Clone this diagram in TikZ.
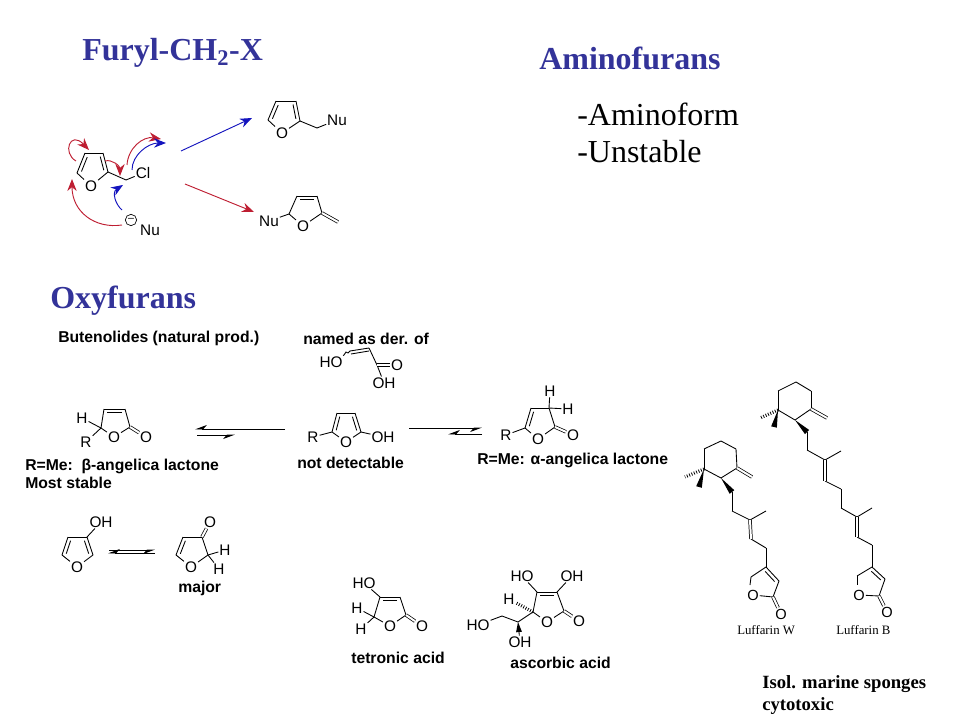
\documentclass[tikz,border=0pt]{standalone}
\usepackage{fontspec}
\setmainfont{Liberation Sans}
\newfontfamily\timesfont{Liberation Serif}
\usetikzlibrary{arrows.meta,calc}
\definecolor{slideblue}{RGB}{51,51,153}
\definecolor{curvered}{RGB}{190,30,50}
\definecolor{curveblue}{RGB}{20,20,190}
\tikzset{
  atom/.style={inner sep=.6pt,font=\fontsize{11.5}{12}\selectfont},
  smallatom/.style={inner sep=.6pt,font=\fontsize{11}{11}\selectfont},
  bond/.style={line width=.65pt},
  dbond/.style={line width=.55pt,double,double distance=1.5pt},
  capt/.style={anchor=west,inner sep=0pt,font=\fontsize{11.8}{14}\selectfont\bfseries},
  heading/.style={anchor=west,inner sep=0pt,text=slideblue,font=\fontsize{24}{24}\timesfont\bfseries},
  listing/.style={anchor=west,inner sep=0pt,font=\fontsize{24}{24}\timesfont},
  note/.style={anchor=west,inner sep=0pt,font=\fontsize{14}{14}\timesfont\bfseries},
  luff/.style={anchor=west,inner sep=0pt,font=\fontsize{9.6}{10}\timesfont},
  redarrow/.style={-{Stealth[length=9pt,width=7pt]},curvered,line width=.7pt},
  bluearrow/.style={-{Stealth[length=9pt,width=7pt]},curveblue,line width=.7pt},
  eqhalf/.style={-{Stealth[harpoon,swap,length=8pt,width=6pt]},bond},
  hashbond/.style={line width=2.4pt,dash pattern=on .6pt off 1.3pt},
}
% inner line of a ring double bond
\newcommand{\innerbond}[2]{\draw[bond] ($(#1)!.14!(#2)!2.7pt!90:(#2)$) -- ($(#2)!.14!(#1)!2.7pt!-90:(#1)$);}
\newcommand{\wedgebond}[2]{\fill ($(#2)!2.2pt!90:(#1)$) -- (#1) -- ($(#2)!2.2pt!-90:(#1)$) -- cycle;}
\begin{document}
\begin{tikzpicture}[x=.75pt,y=-.75pt]
\useasboundingbox (0,0) rectangle (960,720);

% headings
\node[heading] (hfuryl) at (82,53) {Furyl-CH\textsubscript{2}-X};
\node[heading] (hamino) at (539,58) {Aminofurans};
\node[heading] (hoxy) at (50,301) {Oxyfurans};
\node[listing] (l1) at (577,114) {-Aminoform};
\node[listing] (l2) at (577,152) {-Unstable};

% chloride
\foreach \n/\x/\y in {a1/85/153,a2/103/153,a3/108/172,a4/77/173,a5/126/180}
  \coordinate (\n) at (\x,\y);
\node[atom] (ao) at (91,186) {O};
\node[atom] (acl) at (143,173) {Cl};
\node[atom] (anu) at (150,230) {Nu};
\node[circle,draw,line width=.5pt,minimum size=8.5pt,inner sep=0pt,font=\fontsize{8}{8}\selectfont] (aminus) at (131,220) {--};
\foreach \a/\b in {a1/a2,a2/a3,a3/ao,ao/a4,a4/a1,a3/a5,a5/acl}
  \draw[bond] (\a) -- (\b);
\innerbond{a1}{a4}
\innerbond{a3}{a2}

% curved arrows
\foreach \n/\x/\y in {r1s/76/161,r1e/89/150,r2s/105/161,r2e/120/176,r3s/122/225,r3e/72/179,
    b1s/122/210,b1e/123/185,r4s/127/165,r4e/161/139,b4s/132/170,b4e/166/143}
  \coordinate (\n) at (\x,\y);
\draw[redarrow] (r1s) .. controls (62,153) and (70,130) .. (r1e);
\draw[redarrow] (r2s) .. controls (112,159) and (120,166) .. (r2e);
\draw[redarrow] (r3s) .. controls (95,229) and (72,212) .. (r3e);
\draw[bluearrow] (b1s) .. controls (115,204) and (112,192) .. (b1e);
\draw[redarrow] (r4s) .. controls (128,148) and (143,136) .. (r4e);
\draw[bluearrow] (b4s) .. controls (132,155) and (148,143) .. (b4e);

% reaction arrows
\coordinate (mbs) at (181,151);
\coordinate (mbe) at (252,118);
\coordinate (mrs) at (185,184);
\coordinate (mre) at (254,212);
\draw[bluearrow] (mbs) -- (mbe);
\draw[redarrow] (mrs) -- (mre);

% product 1
\foreach \n/\x/\y in {b1/276/101,b2/296/101,b3/300/121,b4/268/120,b5/317/128}
  \coordinate (\n) at (\x,\y);
\node[atom] (bo) at (282,133) {O};
\node[atom] (bnu) at (337,120) {Nu};
\foreach \a/\b in {b1/b2,b2/b3,b3/bo,bo/b4,b4/b1,b3/b5,b5/bnu}
  \draw[bond] (\a) -- (\b);
\innerbond{b1}{b4}
\innerbond{b3}{b2}

% product 2
\foreach \n/\x/\y in {c1/297/196,c2/317/196,c3/322/213,c4/289/214,c5/338/222}
  \coordinate (\n) at (\x,\y);
\node[atom] (co) at (303,226) {O};
\node[atom] (cnu) at (269,221) {Nu};
\foreach \a/\b in {c1/c2,c2/c3,c3/co,co/c4,c4/c1,c4/cnu}
  \draw[bond] (\a) -- (\b);
\innerbond{c2}{c1}
\draw[dbond] (c3) -- (c5);

% butenolide
\node[capt] (tbut) at (58,338) {Butenolides (natural prod.)};
\foreach \n/\x/\y in {d1/104/409,d2/125/409,d3/130/427,d4/101/428}
  \coordinate (\n) at (\x,\y);
\node[atom] (do) at (114,437) {O};
\node[atom] (dox) at (146,437) {O};
\node[atom] (dh) at (82,418) {H};
\node[atom] (dr) at (86,442) {R};
\foreach \a/\b in {d1/d2,d2/d3,d3/do,do/d4,d4/d1,d4/dh,d4/dr}
  \draw[bond] (\a) -- (\b);
\innerbond{d2}{d1}
\draw[dbond] (d3) -- (dox);
\node[capt] (tbeta) at (25,466) {R=Me:\ \ β-angelica lactone};
\node[capt] (tmost) at (25,483) {Most stable};

% left equilibrium
\foreach \n/\x/\y in {e1s/285/429,e1e/195/429,e2s/197/435,e2e/235/435}
  \coordinate (\n) at (\x,\y);
\draw[eqhalf] (e1s) -- (e1e);
\draw[eqhalf] (e2s) -- (e2e);

% acid
\node[capt] (tnamed) at (303,339) {named as der. of};
\foreach \n/\x/\y in {f1/350/351,f2/369/348,f3/377/365,fk/344/355}
  \coordinate (\n) at (\x,\y);
\node[atom] (fho) at (331,362) {HO};
\node[atom] (fox) at (397,365) {O};
\node[atom] (foh) at (384,383) {OH};
\draw[bond] (fho) -- (fk) -- ++(2,-3) -- ++(2,1) -- (f1);
\draw[bond] (f1) -- (f2) (f2) -- (f3) (f3) -- (foh);
\draw[bond] ($(f1)+(1,3)$) -- ($(f2)+(0,3)$);
\draw[dbond] (f3) -- (fox);

% hydroxyfuran
\foreach \n/\x/\y in {g1/337/413,g2/355/413,g3/361/432,g4/332/432}
  \coordinate (\n) at (\x,\y);
\node[atom] (go) at (346,442) {O};
\node[atom] (gr) at (313,437) {R};
\node[atom] (goh) at (383,437) {OH};
\foreach \a/\b in {g1/g2,g2/g3,g3/go,go/g4,g4/g1,g4/gr,g3/goh}
  \draw[bond] (\a) -- (\b);
\innerbond{g1}{g4}
\innerbond{g3}{g2}
\node[capt] (tnot) at (297,463) {not detectable};

% right equilibrium
\foreach \n/\x/\y in {i1s/409/428,i1e/482/428,i2s/482/434,i2e/448/434}
  \coordinate (\n) at (\x,\y);
\draw[eqhalf] (i1s) -- (i1e);
\draw[eqhalf] (i2s) -- (i2e);

% alpha lactone
\foreach \n/\x/\y in {j1/531/408,j2/549/408,j3/555/427,j4/525/428}
  \coordinate (\n) at (\x,\y);
\node[atom] (jo) at (538,439) {O};
\node[atom] (jox) at (573,435) {O};
\node[atom] (jr) at (506,435) {R};
\node[atom] (jh1) at (550,391) {H};
\node[atom] (jh2) at (568,409) {H};
\foreach \a/\b in {j1/j2,j2/j3,j3/jo,jo/j4,j4/j1,j4/jr,j2/jh1,j2/jh2}
  \draw[bond] (\a) -- (\b);
\innerbond{j1}{j4}
\draw[dbond] (j3) -- (jox);
\node[capt] (talpha) at (477,460) {R=Me: α-angelica lactone};

% 3-hydroxyfuran
\foreach \n/\x/\y in {k1/68/537,k2/87/537,k3/93/555,k4/62/555}
  \coordinate (\n) at (\x,\y);
\node[atom] (ko) at (77,567) {O};
\node[atom] (koh) at (101,522) {OH};
\foreach \a/\b in {k1/k2,k2/k3,k3/ko,ko/k4,k4/k1,k2/koh}
  \draw[bond] (\a) -- (\b);
\innerbond{k1}{k4}
\innerbond{k3}{k2}

% lower equilibrium
\foreach \n/\x/\y in {m1s/109/550,m1e/155/550,m2s/155/553,m2e/108/553}
  \coordinate (\n) at (\x,\y);
\draw[eqhalf] (m1s) -- (m1e);
\draw[eqhalf] (m2s) -- (m2e);

% furanone
\foreach \n/\x/\y in {n1/183/537,n2/202/537,n3/208/555,n4/176/555}
  \coordinate (\n) at (\x,\y);
\node[atom] (no) at (191,567) {O};
\node[atom] (nox) at (210,522) {O};
\node[atom] (nh1) at (225,550) {H};
\node[atom] (nh2) at (219,569) {H};
\foreach \a/\b in {n1/n2,n2/n3,n3/no,no/n4,n4/n1,n3/nh1,n3/nh2}
  \draw[bond] (\a) -- (\b);
\innerbond{n1}{n4}
\draw[dbond] (n2) -- (nox);
\node[capt] (tmajor) at (178,588) {major};

% tetronic acid
\foreach \n/\x/\y in {p1/380/597,p2/400/597,p3/406/615,p4/374/617}
  \coordinate (\n) at (\x,\y);
\node[atom] (pho) at (364,583) {HO};
\node[atom] (po) at (390,626) {O};
\node[atom] (pox) at (422,626) {O};
\node[atom] (ph1) at (357,608) {H};
\node[atom] (ph2) at (361,629) {H};
\foreach \a/\b in {p1/p2,p2/p3,p3/po,po/p4,p4/p1,p1/pho,p4/ph1,p4/ph2}
  \draw[bond] (\a) -- (\b);
\innerbond{p2}{p1}
\draw[dbond] (p3) -- (pox);
\node[capt] (ttet) at (351,658) {tetronic acid};

% ascorbic acid
\foreach \n/\x/\y in {q1/537/592,q2/557/592,q3/564/611,q4/533/612,q5/518/622,q6/502/616}
  \coordinate (\n) at (\x,\y);
\node[atom] (qho1) at (522,576) {HO};
\node[atom] (qoh1) at (572,576) {OH};
\node[atom] (qo) at (547,622) {O};
\node[atom] (qox) at (579,621) {O};
\node[atom] (qh) at (509,599) {H};
\node[atom] (qoh2) at (520,642) {OH};
\node[atom] (qho2) at (478,625) {HO};
\foreach \a/\b in {q1/q2,q2/q3,q3/qo,qo/q4,q4/q1,q1/qho1,q2/qoh1,q4/q5,q5/q6,q6/qho2}
  \draw[bond] (\a) -- (\b);
\innerbond{q2}{q1}
\draw[dbond] (q3) -- (qox);
\draw[hashbond] (q4) -- (qh);
\coordinate (q7) at (519,632);
\wedgebond{q5}{q7}
\draw[bond] (q7) -- (qoh2);
\node[capt] (tasc) at (510,663) {ascorbic acid};

% luffarin B
\foreach \n/\x/\y in {s1/796/382,s2/811/391,s3/811/409,s4/795/420,s5/778/410,s6/778/391,
    s7/827/418,s8/760/418,s9/774/427,s10/807/432,s11/807/450,s12/825/460,s13/841/451,
    s14/825/481,s15/841/489,s16/841/508,s17/857/517,s18/872/508,s19/857/537,s20/872/545,
    s21/872/567,s22/885/579,s23/879/596,s24/857/576,s25/857/585}
  \coordinate (\n) at (\x,\y);
\node[smallatom] (so) at (859,595) {O};
\node[smallatom] (sox) at (887,612) {O};
\foreach \a/\b in {s1/s2,s2/s3,s3/s4,s4/s5,s5/s6,s6/s1,s10/s11,s11/s12,s12/s13,s14/s15,s15/s16,s16/s17,s17/s18,s19/s20,s20/s21,s21/s22,s22/s23,s23/so,s21/s24,s24/s25}
  \draw[bond] (\a) -- (\b);
\draw[dbond] (s3) -- (s7);
\draw[dbond] (s12) -- (s14);
\draw[dbond] (s17) -- (s19);
\draw[dbond] (s23) -- (sox);
\innerbond{s22}{s21}
\draw[hashbond] (s5) -- (s8);
\wedgebond{s5}{s9}
\wedgebond{s4}{s10}
\node[luff] (tlb) at (836,630) {Luffarin B};

% luffarin W
\foreach \n/\x/\y in {t1/721/441,t2/736/449,t3/737/468,t4/721/478,t5/704/469,t6/704/449,
    t7/752/477,t8/685/477,t9/699/487,t10/732/492,t11/732/511,t12/750/520,t13/766/511,
    t14/751/539,t15/766/548,t16/766/567,t17/779/581,t18/773/597,t19/751/577,t20/750/585}
  \coordinate (\n) at (\x,\y);
\node[smallatom] (to) at (753,595) {O};
\node[smallatom] (tox) at (781,614) {O};
\foreach \a/\b in {t1/t2,t2/t3,t3/t4,t4/t5,t5/t6,t6/t1,t10/t11,t11/t12,t12/t13,t14/t15,t15/t16,t16/t17,t17/t18,t18/to,t16/t19,t19/t20}
  \draw[bond] (\a) -- (\b);
\draw[dbond] (t3) -- (t7);
\draw[dbond] (t12) -- (t14);
\draw[dbond] (t18) -- (tox);
\innerbond{t17}{t16}
\draw[hashbond] (t5) -- (t8);
\wedgebond{t5}{t9}
\wedgebond{t4}{t10}
\node[luff] (tlw) at (737,630) {Luffarin W};

% source note
\node[note] (tisol) at (762,684) {Isol. marine sponges};
\node[note] (tcyto) at (762,706) {cytotoxic};

\end{tikzpicture}
\end{document}
